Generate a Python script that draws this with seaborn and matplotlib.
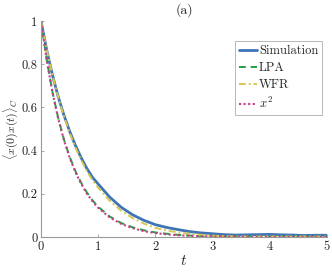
import matplotlib
matplotlib.use("Agg")
import matplotlib.pyplot as plt
import seaborn as sns
import pandas as pd

# ---- data ----
t = [0, 0.1, 0.2, 0.3, 0.4, 0.5, 0.6, 0.7, 0.8, 0.9, 1.0, 1.2, 1.4, 1.6, 1.8,
     2.0, 2.2, 2.4, 2.6, 2.8, 3.0, 3.2, 3.4, 3.6, 3.8, 4.0, 4.2, 4.4, 4.6, 4.8, 5.0]
simulation = [1.0, 0.865, 0.75, 0.65, 0.565, 0.49, 0.425, 0.368, 0.318, 0.276, 0.245,
              0.185, 0.138, 0.103, 0.077, 0.057, 0.044, 0.034, 0.025, 0.019, 0.015,
              0.011, 0.009, 0.010, 0.011, 0.012, 0.010, 0.009, 0.007, 0.008, 0.008]
lpa = [1.0, 0.82, 0.672, 0.552, 0.453, 0.372, 0.306, 0.252, 0.207, 0.17, 0.14,
       0.095, 0.065, 0.045, 0.031, 0.021, 0.015, 0.010, 0.007, 0.005, 0.0035,
       0.0025, 0.002, 0.002, 0.002, 0.002, 0.002, 0.002, 0.002, 0.002, 0.002]
wfr = [1.0, 0.865, 0.75, 0.648, 0.56, 0.483, 0.415, 0.357, 0.306, 0.262, 0.228,
       0.168, 0.122, 0.088, 0.062, 0.042, 0.030, 0.021, 0.015, 0.010, 0.006,
       0.004, 0.003, 0.002, 0.002, 0.002, 0.002, 0.002, 0.002, 0.002, 0.002]
xsq = [1.0, 0.819, 0.670, 0.549, 0.449, 0.368, 0.301, 0.247, 0.202, 0.165, 0.135,
       0.091, 0.061, 0.041, 0.027, 0.018, 0.012, 0.008, 0.0055, 0.0037, 0.0025,
       0.0017, 0.0011, 0.0007, 0.0005, 0.0003, 0.0002, 0.0001, 0.0001, 0.0, 0.0]

series_names = ["Simulation", "LPA", "WFR", "$x^2$"]
xticks = [0, 1, 2, 3, 4, 5]
xtick_labels = ["0", "1", "2", "3", "4", "5"]
yticks = [0, 0.2, 0.4, 0.6, 0.8, 1.0]
ytick_labels = ["0", "0.2", "0.4", "0.6", "0.8", "1"]
title = "(a)"
xlabel = "$t$"
ylabel = r"$\langle x(0)x(t)\rangle_C$"

# ---- style ----
sns.set_theme(style="white")
plt.rcParams["font.family"] = ["cmr10", "DejaVu Serif"]
plt.rcParams["mathtext.fontset"] = "cm"
plt.rcParams["axes.formatter.use_mathtext"] = True
plt.rcParams["axes.unicode_minus"] = False

fig = plt.figure(figsize=(3.32, 2.72), dpi=100)
ax = fig.add_axes([41 / 332, (272 - 237) / 272, 286 / 332, 216 / 272])

styles = [
    dict(color="#3f74b6", linestyle="-", linewidth=2.0),
    dict(color="#23a040", linestyle=(0, (3.5, 2.5)), linewidth=1.4),
    dict(color="#d8c850", linestyle=(0, (3.5, 1.5, 1, 1.5)), linewidth=1.4),
    dict(color="#cc3a8e", linestyle=(0, (1, 1.2)), linewidth=1.5),
]
for name, vals, st in zip(series_names, [simulation, lpa, wfr, xsq], styles):
    df = pd.DataFrame({"t": t, "v": vals})
    sns.lineplot(data=df, x="t", y="v", ax=ax, label=name, **st)

ax.set_xlim(0, 5)
ax.set_ylim(0, 1)
ax.set_xticks(xticks)
ax.set_xticklabels(xtick_labels)
ax.set_yticks(yticks)
ax.set_yticklabels(ytick_labels)
ax.tick_params(direction="in", length=2.5, width=0.6, color="#999999",
               labelsize=9, labelcolor="#222222", pad=2.5,
               bottom=True, left=True)
for side in ["top", "right"]:
    ax.spines[side].set_visible(False)
for side in ["left", "bottom"]:
    ax.spines[side].set_color("#999999")
    ax.spines[side].set_linewidth(0.8)

ax.set_title(title, fontsize=10, pad=5)
ax.set_xlabel(xlabel, fontsize=11, labelpad=1)
ax.set_ylabel(ylabel, fontsize=8.5)
ax.yaxis.set_label_coords(-0.075, 0.5)

leg = ax.legend(loc="upper right", bbox_to_anchor=(0.983, 0.907),
                borderaxespad=0, fontsize=9, handlelength=1.4,
                handletextpad=0.2, borderpad=0.3, labelspacing=0.4,
                frameon=True, fancybox=False, edgecolor="#999999")
leg.get_frame().set_linewidth(0.6)

fig.savefig("out.png", dpi=100)
